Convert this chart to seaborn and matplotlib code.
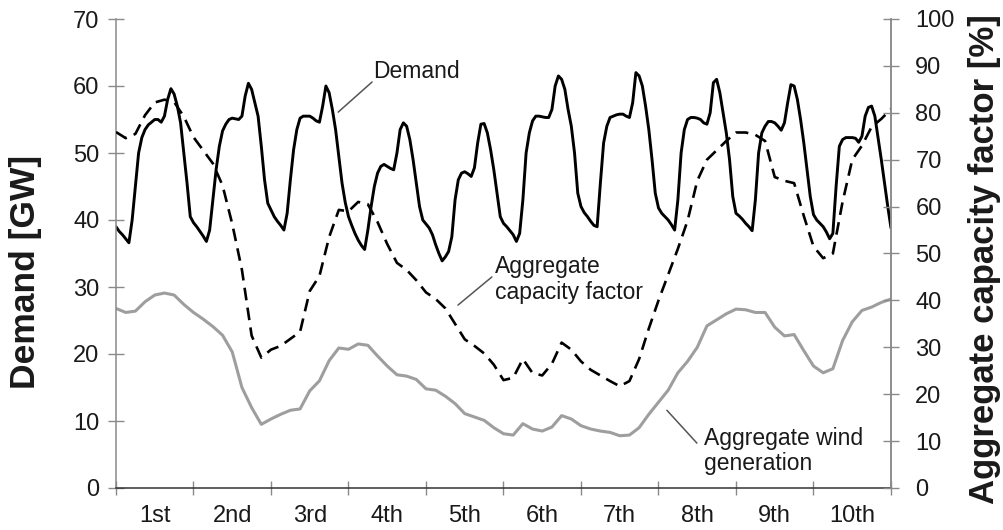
import numpy as np
import matplotlib
matplotlib.use("Agg")
import matplotlib.pyplot as plt
from matplotlib.ticker import MultipleLocator, FixedLocator, NullFormatter, FixedFormatter
import seaborn as sns

sns.set_theme(style="white")
plt.rcParams["font.family"] = ["Liberation Sans", "DejaVu Sans"]

# ---- data -------------------------------------------------------------
day_labels = ["1st", "2nd", "3rd", "4th", "5th", "6th", "7th", "8th", "9th", "10th"]

# hourly system demand [GW], one list per day
demand_day1 = [39.0, 38.3, 37.8, 37.2, 36.6, 40.0, 45.0, 50.0, 52.3, 53.5, 54.2, 54.6,
               55.0, 55.0, 54.6, 55.5, 58.0, 59.6, 58.8, 57.0, 54.5, 50.0, 45.5, 40.5]
demand_day2 = [39.6, 39.0, 38.3, 37.6, 36.8, 38.5, 43.0, 47.5, 51.0, 53.3, 54.3, 55.0,
               55.2, 55.1, 55.0, 55.5, 58.5, 60.4, 59.5, 57.5, 55.5, 51.0, 46.0, 42.5]
demand_day3 = [41.5, 40.5, 39.8, 39.2, 38.5, 41.0, 46.0, 50.5, 53.5, 55.2, 55.5, 55.5,
               55.5, 55.2, 54.8, 54.6, 57.0, 60.0, 59.0, 56.5, 53.5, 49.5, 45.5, 42.6]
demand_day4 = [40.5, 39.2, 38.0, 37.0, 36.2, 35.6, 38.5, 42.0, 45.0, 47.0, 48.0, 48.3,
               48.0, 47.7, 47.5, 50.0, 53.5, 54.5, 54.0, 52.0, 49.0, 45.5, 42.0, 40.0]
demand_day5 = [39.4, 38.8, 37.8, 36.3, 35.0, 33.9, 34.5, 35.3, 37.5, 43.0, 46.0, 47.0,
               47.2, 46.9, 46.5, 47.8, 51.5, 54.3, 54.4, 53.0, 50.5, 47.5, 44.0, 40.5]
demand_day6 = [39.5, 39.0, 38.4, 37.8, 36.8, 38.0, 43.0, 50.0, 53.0, 54.8, 55.5, 55.5,
               55.4, 55.3, 55.3, 56.5, 60.0, 61.5, 61.0, 59.5, 56.5, 54.0, 50.0, 44.0]
demand_day7 = [42.0, 41.1, 40.5, 39.8, 39.2, 39.0, 45.5, 51.5, 54.0, 55.3, 55.5, 55.7,
               55.8, 55.8, 55.5, 55.3, 57.5, 62.0, 61.5, 60.0, 57.0, 53.5, 49.0, 44.0]
demand_day8 = [41.8, 41.0, 40.5, 40.0, 39.3, 38.5, 43.0, 50.0, 53.5, 55.0, 55.3, 55.3,
               55.2, 55.0, 54.5, 54.3, 56.0, 60.5, 61.0, 59.0, 56.0, 53.0, 49.0, 43.5]
demand_day9 = [41.0, 40.6, 40.1, 39.5, 39.0, 38.4, 43.0, 50.0, 53.0, 54.0, 54.7, 54.7,
               54.5, 54.0, 53.4, 54.5, 57.5, 60.2, 60.0, 58.0, 55.0, 51.5, 47.5, 43.5]
demand_day10 = [40.8, 40.0, 39.5, 39.0, 38.2, 37.2, 38.0, 45.0, 51.0, 52.0, 52.3, 52.3,
                52.3, 52.2, 51.6, 52.5, 55.5, 56.8, 57.0, 55.5, 52.3, 49.0, 45.5, 42.0,
                38.8]

# aggregate capacity factor [%] and aggregate wind generation [GW], 3-hourly
capacity_factor = [75.9, 74.6, 75.5, 79.5, 82.2, 82.8, 82.3, 79.2, 74.8, 72.0,
                   69.2, 64.5, 56.3, 46.5, 32.5, 27.8, 29.5, 30.3, 31.8, 33.3,
                   42.0, 45.2, 53.5, 59.3, 59.0, 61.0, 60.5, 56.7, 52.0, 48.0,
                   46.5, 44.3, 41.7, 40.3, 38.3, 35.0, 31.7, 30.3, 28.7, 26.3,
                   23.0, 23.5, 27.5, 24.5, 24.0, 26.5, 31.0, 29.5, 27.0, 25.2,
                   24.0, 22.8, 21.7, 22.8, 27.5, 34.0, 40.0, 45.5, 51.0, 57.0,
                   65.5, 70.0, 72.0, 74.0, 75.8, 75.8, 75.3, 74.0, 66.3, 65.5,
                   65.0, 58.0, 51.5, 49.0, 50.0, 61.0, 70.0, 73.0, 77.0, 78.7,
                   80.8]
wind_generation = [26.8, 26.2, 26.4, 27.8, 28.8, 29.1, 28.8, 27.4, 26.2, 25.2,
                   24.1, 22.8, 20.3, 15.0, 12.0, 9.5, 10.3, 11.0, 11.6, 11.8,
                   14.5, 16.0, 19.0, 20.9, 20.7, 21.5, 21.3, 19.7, 18.2, 16.9,
                   16.7, 16.2, 14.8, 14.6, 13.7, 12.6, 11.1, 10.6, 10.1, 9.0,
                   8.1, 7.9, 9.6, 8.8, 8.5, 9.1, 10.8, 10.3, 9.3, 8.8,
                   8.5, 8.3, 7.8, 7.9, 9.0, 11.0, 12.8, 14.6, 17.2, 18.9,
                   21.0, 24.2, 25.1, 26.0, 26.7, 26.6, 26.2, 26.2, 24.0, 22.7,
                   22.9, 20.5, 18.2, 17.2, 17.8, 22.0, 24.8, 26.5, 27.0, 27.7,
                   28.2]

demand = np.array(demand_day1 + demand_day2 + demand_day3 + demand_day4 + demand_day5
                  + demand_day6 + demand_day7 + demand_day8 + demand_day9 + demand_day10)
demand_hours = np.arange(len(demand))
wind_hours = np.arange(0, 3 * len(capacity_factor), 3)

# ---- figure -------------------------------------------------------------
fig = plt.figure(figsize=(10.04, 5.30), dpi=100)
ax = fig.add_axes([116 / 1004, 1 - 488 / 530, 775 / 1004, 469 / 530])
ax2 = ax.twinx()

sns.lineplot(x=demand_hours, y=demand, ax=ax, color="black", linewidth=2.1)
sns.lineplot(x=wind_hours, y=wind_generation, ax=ax, color="#9e9e9e", linewidth=2.2)
sns.lineplot(x=wind_hours, y=capacity_factor, ax=ax2, color="black", linewidth=1.9)
ax2.lines[0].set_linestyle((0, (4.8, 2.8)))

ax.set_xlim(0, 240)
ax.set_ylim(0, 70)
ax2.set_ylim(0, 100)
ax.yaxis.set_major_locator(MultipleLocator(10))
ax2.yaxis.set_major_locator(MultipleLocator(10))

# day boundaries carry tick marks, day names sit in the middle of each day
ax.xaxis.set_major_locator(MultipleLocator(24))
ax.xaxis.set_major_formatter(NullFormatter())
ax.xaxis.set_minor_locator(FixedLocator([12 + 24 * i for i in range(len(day_labels))]))
ax.xaxis.set_minor_formatter(FixedFormatter(day_labels))

tick_color = "#8a8a8a"
text_color = "#1a1a1a"
ax.tick_params(axis="x", which="major", direction="inout", length=10, width=1,
               color=tick_color, bottom=True)
ax.tick_params(axis="x", which="minor", length=0, pad=12, labelsize=17,
               labelcolor=text_color, bottom=True)
ax.tick_params(axis="y", direction="inout", length=11, width=1, color=tick_color,
               pad=6.5, labelsize=17, labelcolor=text_color, left=True)
ax2.tick_params(axis="y", direction="inout", length=11, width=1, color=tick_color,
                pad=12, labelsize=17, labelcolor=text_color, right=True)

for a in (ax, ax2):
    a.spines["top"].set_visible(False)
    a.spines["left"].set_color(tick_color)
    a.spines["right"].set_color(tick_color)
    a.spines["bottom"].set_color("#333333")
    for s in a.spines.values():
        s.set_linewidth(1.1)
    a.grid(False)
ax2.spines["left"].set_visible(False)
ax2.spines["bottom"].set_visible(False)

ax.set_xlabel("")
ax.set_ylabel("Demand [GW]", fontsize=25.5, fontweight="bold", color=text_color)
ax2.set_ylabel("Aggregate capacity factor [%]", fontsize=25, fontweight="bold",
               color=text_color)
ax.yaxis.set_label_coords(-0.096, 0.46)
ax2.yaxis.set_label_coords(1.099, 0.488)

# callout labels with thin leader lines
leader = dict(arrowstyle="-", color="#555555", lw=1.1, shrinkA=0, shrinkB=0)
note = dict(fontsize=16.5, color=text_color, ha="left", va="baseline")

ax.annotate("", xy=(68.8, 56.1), xytext=(79.3, 60.6), arrowprops=leader)
ax.text(79.6, 61.2, "Demand", **note)

ax2.annotate("", xy=(105.9, 39.0), xytext=(116.4, 45.0), arrowprops=leader)
ax2.text(117.4, 45.8, "Aggregate", **note)
ax2.text(117.4, 40.4, "capacity factor", **note)

ax.annotate("", xy=(170.6, 11.6), xytext=(179.9, 6.7), arrowprops=leader)
ax.text(182.1, 6.4, "Aggregate wind", **note)
ax.text(182.1, 2.7, "generation", **note)

fig.savefig("out.png", dpi=100)
